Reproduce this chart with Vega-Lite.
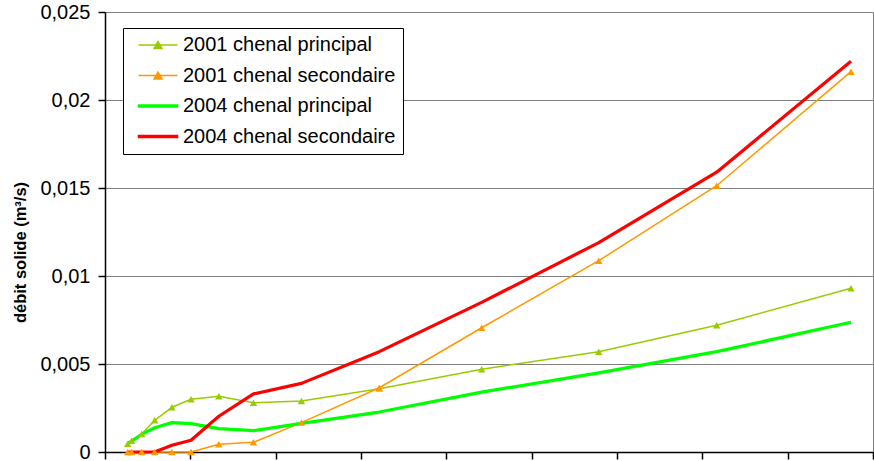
{
  "$schema": "https://vega.github.io/schema/vega-lite/v6.json",
  "width": 768,
  "height": 440,
  "autosize": {"type": "none"},
  "padding": {"left": 105, "top": 12, "right": 1, "bottom": 9},
  "background": "white",
  "config": {
    "font": "Liberation Sans",
    "view": {"stroke": "#808080", "strokeWidth": 1}
  },
  "data": {
    "values": [
      {"q": 13.3, "series": "2001 chenal principal", "qs": 0.00046},
      {"q": 15.6, "series": "2001 chenal principal", "qs": 0.00064},
      {"q": 21.5, "series": "2001 chenal principal", "qs": 0.00102},
      {"q": 29.1, "series": "2001 chenal principal", "qs": 0.0018},
      {"q": 39.2, "series": "2001 chenal principal", "qs": 0.00254},
      {"q": 50.4, "series": "2001 chenal principal", "qs": 0.003},
      {"q": 66.7, "series": "2001 chenal principal", "qs": 0.00317},
      {"q": 87.0, "series": "2001 chenal principal", "qs": 0.0028},
      {"q": 115.1, "series": "2001 chenal principal", "qs": 0.0029},
      {"q": 160.7, "series": "2001 chenal principal", "qs": 0.0036},
      {"q": 220.7, "series": "2001 chenal principal", "qs": 0.0047},
      {"q": 289.3, "series": "2001 chenal principal", "qs": 0.0057},
      {"q": 358.4, "series": "2001 chenal principal", "qs": 0.0072},
      {"q": 437.1, "series": "2001 chenal principal", "qs": 0.0093},

      {"q": 13.3, "series": "2001 chenal secondaire", "qs": 0},
      {"q": 15.6, "series": "2001 chenal secondaire", "qs": 0},
      {"q": 21.5, "series": "2001 chenal secondaire", "qs": 0},
      {"q": 29.1, "series": "2001 chenal secondaire", "qs": 0},
      {"q": 39.2, "series": "2001 chenal secondaire", "qs": 0},
      {"q": 50.4, "series": "2001 chenal secondaire", "qs": 0},
      {"q": 66.7, "series": "2001 chenal secondaire", "qs": 0.00044},
      {"q": 87.0, "series": "2001 chenal secondaire", "qs": 0.00055},
      {"q": 115.1, "series": "2001 chenal secondaire", "qs": 0.00167},
      {"q": 160.7, "series": "2001 chenal secondaire", "qs": 0.00365},
      {"q": 220.7, "series": "2001 chenal secondaire", "qs": 0.00706},
      {"q": 289.3, "series": "2001 chenal secondaire", "qs": 0.01087},
      {"q": 358.4, "series": "2001 chenal secondaire", "qs": 0.01513},
      {"q": 437.1, "series": "2001 chenal secondaire", "qs": 0.02161},

      {"q": 13.3, "series": "2004 chenal principal", "qs": 0.0005},
      {"q": 15.6, "series": "2004 chenal principal", "qs": 0.00062},
      {"q": 21.5, "series": "2004 chenal principal", "qs": 0.001},
      {"q": 29.1, "series": "2004 chenal principal", "qs": 0.00138},
      {"q": 39.2, "series": "2004 chenal principal", "qs": 0.00167},
      {"q": 50.4, "series": "2004 chenal principal", "qs": 0.00161},
      {"q": 66.7, "series": "2004 chenal principal", "qs": 0.00133},
      {"q": 87.0, "series": "2004 chenal principal", "qs": 0.00121},
      {"q": 115.1, "series": "2004 chenal principal", "qs": 0.00163},
      {"q": 160.7, "series": "2004 chenal principal", "qs": 0.00227},
      {"q": 220.7, "series": "2004 chenal principal", "qs": 0.0034},
      {"q": 289.3, "series": "2004 chenal principal", "qs": 0.0045},
      {"q": 358.4, "series": "2004 chenal principal", "qs": 0.0057},
      {"q": 437.1, "series": "2004 chenal principal", "qs": 0.00737},

      {"q": 13.3, "series": "2004 chenal secondaire", "qs": 0},
      {"q": 15.6, "series": "2004 chenal secondaire", "qs": 0},
      {"q": 21.5, "series": "2004 chenal secondaire", "qs": 0},
      {"q": 29.1, "series": "2004 chenal secondaire", "qs": 0},
      {"q": 39.2, "series": "2004 chenal secondaire", "qs": 0.00038},
      {"q": 50.4, "series": "2004 chenal secondaire", "qs": 0.00067},
      {"q": 66.7, "series": "2004 chenal secondaire", "qs": 0.00203},
      {"q": 87.0, "series": "2004 chenal secondaire", "qs": 0.0033},
      {"q": 115.1, "series": "2004 chenal secondaire", "qs": 0.0039},
      {"q": 160.7, "series": "2004 chenal secondaire", "qs": 0.0057},
      {"q": 220.7, "series": "2004 chenal secondaire", "qs": 0.0085},
      {"q": 289.3, "series": "2004 chenal secondaire", "qs": 0.0119},
      {"q": 358.4, "series": "2004 chenal secondaire", "qs": 0.0159},
      {"q": 437.1, "series": "2004 chenal secondaire", "qs": 0.0222}
    ]
  },
  "encoding": {
    "x": {
      "field": "q",
      "type": "quantitative",
      "scale": {"domain": [0, 450], "nice": false, "zero": true},
      "axis": {
        "values": [0, 50, 100, 150, 200, 250, 300, 350, 400, 450],
        "labels": false,
        "grid": false,
        "title": null,
        "domainColor": "#000000",
        "domainWidth": 1.5,
        "tickColor": "#000000",
        "tickSize": 7,
        "tickWidth": 1.5
      }
    },
    "y": {
      "field": "qs",
      "type": "quantitative",
      "scale": {"domain": [0, 0.025], "nice": false},
      "axis": {
        "values": [0, 0.005, 0.01, 0.015, 0.02, 0.025],
        "labelExpr": "replace(format(datum.value, '.3~f'), '.', ',')",
        "labelFontSize": 20,
        "labelColor": "#000000",
        "labelPadding": 8,
        "tickSize": 7,
        "tickColor": "#000000",
        "tickWidth": 1.5,
        "domainColor": "#000000",
        "domainWidth": 1.5,
        "grid": true,
        "gridColor": "#808080",
        "gridWidth": 1.2,
        "title": "débit solide (m³/s)",
        "titleFontSize": 16.5,
        "titleFontWeight": "bold",
        "titleColor": "#000000",
        "titleAngle": -90,
        "titleX": -85,
        "titleY": 240,
        "titleAlign": "center",
        "titleBaseline": "middle"
      }
    }
  },
  "layer": [
    {
      "transform": [{"filter": "indexof(datum.series, '2001') == 0"}],
      "mark": {"type": "line", "strokeWidth": 1.5, "strokeJoin": "round"},
      "encoding": {
        "color": {
          "field": "series",
          "type": "nominal",
          "scale": {
            "domain": ["2001 chenal principal", "2001 chenal secondaire", "2004 chenal principal", "2004 chenal secondaire"],
            "range": ["#99CC00", "#FF9900", "#00FF00", "#FF0000"]
          },
          "legend": {
            "title": null,
            "orient": "none",
            "legendX": 18,
            "legendY": 16,
            "padding": 7,
            "strokeColor": "#000000",
            "fillColor": "#ffffff",
            "labelFontSize": 20,
            "labelColor": "#000000",
            "labelLimit": 400,
            "symbolSize": 100,
            "symbolOffset": 18,
            "labelOffset": 15,
            "rowPadding": 10.5,
            "encode": {
              "symbols": {
                "update": {
                  "shape": {"signal": "indexof(datum.value, '2001') == 0 ? 'M-3.9,0H3.9M-0.8,0.7L0,-0.7L0.8,0.7Z' : 'M-3.9,-0.18H3.9V0.18H-3.9Z'"},
                  "fill": {"signal": "datum.value == '2001 chenal principal' ? '#99CC00' : (datum.value == '2001 chenal secondaire' ? '#FF9900' : (datum.value == '2004 chenal principal' ? '#00FF00' : '#FF0000'))"}
                }
              }
            }
          }
        }
      }
    },
    {
      "transform": [{"filter": "indexof(datum.series, '2004') == 0"}],
      "mark": {"type": "line", "strokeWidth": 3.2, "strokeJoin": "round"},
      "encoding": {
        "color": {"field": "series", "type": "nominal", "legend": null}
      }
    },
    {
      "transform": [{"filter": "indexof(datum.series, '2001') == 0"}],
      "mark": {"type": "point", "shape": "triangle-up", "filled": true, "size": 55, "opacity": 1},
      "encoding": {
        "color": {"field": "series", "type": "nominal", "legend": null}
      }
    }
  ]
}
